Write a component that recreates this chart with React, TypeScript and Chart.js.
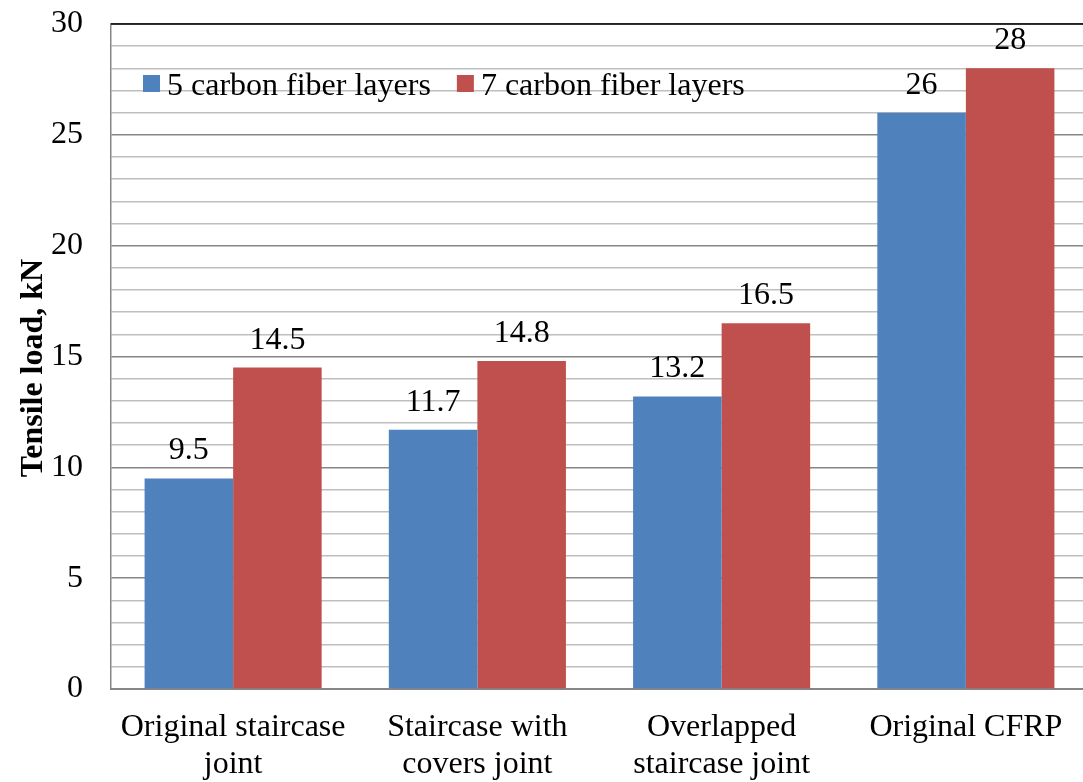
import React, { useEffect, useRef } from "react";
import { Chart, registerables } from "chart.js";

Chart.register(...registerables);

const categories: string[][] = [
  ["Original staircase", "joint"],
  ["Staircase with", "covers joint"],
  ["Overlapped", "staircase joint"],
  ["Original CFRP"],
];
const seriesNames = ["5 carbon fiber layers", "7 carbon fiber layers"];
const series5 = [9.5, 11.7, 13.2, 26];
const series7 = [14.5, 14.8, 16.5, 28];
const seriesColors = ["#4F81BD", "#C0504D"];
const yMin = 0;
const yMax = 30;
const yMajorStep = 5;
const yMinorStep = 1;
const yTitle = "Tensile load, kN";

const FONT = "'Liberation Serif', 'Times New Roman', serif";
const FONT_SIZE = 32;

const overlayPlugin = {
  id: "overlay",
  afterDatasetsDraw(chart: any) {
    const { ctx } = chart;
    ctx.save();
    ctx.fillStyle = "#000";
    ctx.font = `${FONT_SIZE}px ${FONT}`;
    ctx.textAlign = "center";
    ctx.textBaseline = "alphabetic";
    chart.data.datasets.forEach((ds: any, i: number) => {
      const meta = chart.getDatasetMeta(i);
      meta.data.forEach((bar: any, j: number) => {
        ctx.fillText(String(ds.data[j]), bar.x, bar.y - 19);
      });
    });
    ctx.restore();
  },
  afterDraw(chart: any) {
    const { ctx, chartArea } = chart;
    ctx.save();
    // top border
    ctx.strokeStyle = "#000";
    ctx.lineWidth = 1.5;
    ctx.beginPath();
    ctx.moveTo(chartArea.left, chartArea.top);
    ctx.lineTo(chartArea.right, chartArea.top);
    ctx.stroke();

    // legend
    ctx.font = `${FONT_SIZE}px ${FONT}`;
    ctx.textAlign = "left";
    ctx.textBaseline = "alphabetic";
    let x = chartArea.left + 32;
    const sq = 17;
    const sqTop = 75;
    chart.data.datasets.forEach((ds: any) => {
      ctx.fillStyle = ds.backgroundColor;
      ctx.fillRect(x, sqTop, sq, sq);
      ctx.fillStyle = "#000";
      ctx.fillText(ds.label, x + sq + 7, 95);
      x += sq + 7 + ctx.measureText(ds.label).width + 26;
    });

    // y title
    ctx.font = `bold ${FONT_SIZE}px ${FONT}`;
    ctx.textAlign = "center";
    ctx.translate(42, 368);
    ctx.rotate(-Math.PI / 2);
    ctx.fillText(yTitle, 0, 0);
    ctx.restore();
  },
};

export default function App() {
  const ref = useRef<HTMLCanvasElement | null>(null);

  useEffect(() => {
    if (!ref.current) return;
    const chart = new Chart(ref.current, {
      type: "bar",
      data: {
        labels: categories,
        datasets: [
          {
            label: seriesNames[0],
            data: series5,
            backgroundColor: seriesColors[0],
            barPercentage: 1,
            categoryPercentage: 0.725,
          },
          {
            label: seriesNames[1],
            data: series7,
            backgroundColor: seriesColors[1],
            barPercentage: 1,
            categoryPercentage: 0.725,
          },
        ],
      },
      options: {
        animation: false,
        responsive: false,
        devicePixelRatio: 1,
        layout: { padding: { top: 24, right: 12, left: 0, bottom: 0 } },
        plugins: {
          legend: { display: false },
          tooltip: { enabled: false },
        },
        scales: {
          x: {
            grid: { display: false, drawTicks: false },
            border: { display: true, color: "#868686", width: 2 },
            ticks: {
              color: "#000",
              padding: 20,
              maxRotation: 0,
              autoSkip: false,
              font: { family: FONT, size: FONT_SIZE, lineHeight: 37 / FONT_SIZE },
            },
            afterFit: (scale: any) => {
              scale.height = 93;
              scale.paddingLeft = 0;
              scale.paddingRight = 0;
            },
          },
          y: {
            min: yMin,
            max: yMax,
            grid: {
              drawTicks: false,
              color: (c: any) =>
                c.tick && c.tick.value % yMajorStep === 0 ? "#868686" : "#BFBFBF",
              lineWidth: 1.5,
            },
            border: { display: true, color: "#868686", width: 1.5 },
            ticks: {
              stepSize: yMinorStep,
              color: "#000",
              padding: 28,
              autoSkip: false,
              callback: (v: any) => (Number(v) % yMajorStep === 0 ? String(v) : ""),
              font: { family: FONT, size: FONT_SIZE },
            },
            afterFit: (scale: any) => {
              scale.width = 111;
              scale.paddingTop = 0;
              scale.paddingBottom = 0;
            },
          },
        },
      },
      plugins: [overlayPlugin],
    });
    return () => chart.destroy();
  }, []);

  return (
    <div
      style={{
        position: "fixed",
        left: 0,
        top: 0,
        width: 1083,
        height: 782,
        overflow: "hidden",
        background: "#fff",
      }}
    >
      <canvas
        ref={ref}
        width={1100}
        height={782}
        style={{ display: "block", width: 1100, height: 782 }}
      />
    </div>
  );
}
